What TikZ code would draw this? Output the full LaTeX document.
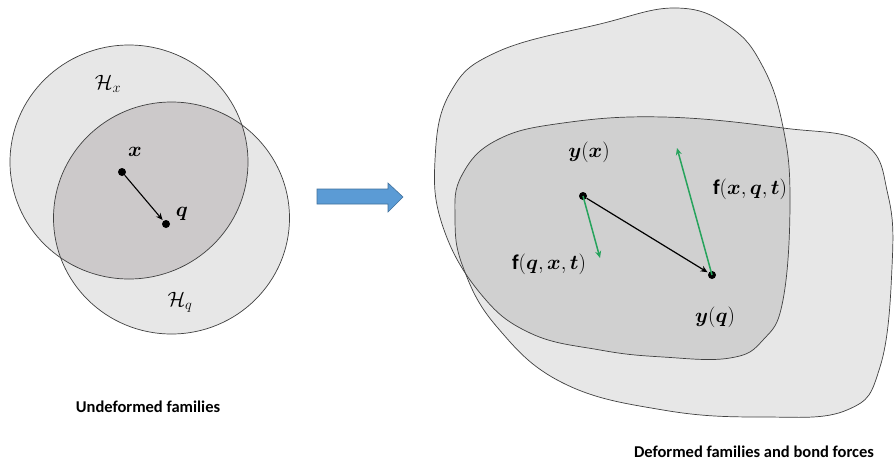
\documentclass[tikz,border=0pt]{standalone}
\usepackage{fontspec}
\setmainfont{Carlito}
\usepackage{amsmath,bm}
\usetikzlibrary{arrows.meta}
\definecolor{lightfill}{RGB}{231,231,231}
\definecolor{darkfill}{RGB}{204,201,202}
\definecolor{darkfillB}{RGB}{208,208,208}
\definecolor{greenarrow}{RGB}{38,163,92}
\definecolor{bluefill}{RGB}{91,155,213}
\definecolor{blueedge}{RGB}{65,113,156}
\tikzset{
  outline/.style={draw=black!75, line width=0.7pt},
  dot/.style={circle, fill=black, inner sep=0pt, minimum size=8pt},
  mlabel/.style={font=\fontsize{21}{24}\selectfont, inner sep=1pt},
  caption/.style={font=\fontsize{16.5}{19}\selectfont\bfseries, inner sep=0pt},
  bond/.style={-{Stealth[length=7pt,width=6pt]}, line width=1.2pt, shorten >=1pt},
  force/.style={-{Stealth[length=7pt,width=6pt]}, line width=1.5pt, draw=greenarrow},
}
\begin{document}
\begin{tikzpicture}[x=1pt,y=-1pt]
\useasboundingbox[fill=white] (0,0) rectangle (894,461);
% ---- left: undeformed families
\fill[lightfill] (129,162) ellipse [x radius=119, y radius=117];
\fill[lightfill] (171.5,218) ellipse [x radius=118, y radius=116];
\begin{scope}
  \clip (129,162) ellipse [x radius=119, y radius=117];
  \fill[darkfill] (171.5,218) ellipse [x radius=118, y radius=116];
\end{scope}
\draw[outline] (129,162) ellipse [x radius=119, y radius=117];
\draw[outline] (171.5,218) ellipse [x radius=118, y radius=116];
\node[dot] (x) at (122,172) {};
\node[dot] (q) at (166,224) {};
\draw[bond, line width=1.1pt] (x) -- (q);
\node[mlabel] (lx) at (135,152) {$\bm{x}$};
\node[mlabel] (lq) at (182,214) {$\bm{q}$};
\node[mlabel] (hx) at (108,84) {$\mathcal{H}_{x}$};
\node[mlabel] (hq) at (180,302) {$\mathcal{H}_{q}$};
\node[caption] (cap1) at (148,407) {Undeformed families};
% ---- block arrow
\draw[fill=bluefill, draw=blueedge, line width=0.6pt]
  (317,189) -- (388,189) -- (388,183) -- (403,197) -- (388,212) -- (388,204) -- (317,204) -- cycle;
% ---- right: deformed families
\fill[lightfill] plot[smooth cycle, tension=0.7] coordinates {
  (677,8) (600,24) (497,52) (450,93) (435,160) (443,227) (480,293) (530,333) (600,350)
  (663,357) (730,358) (763,340) (783,300) (790,200) (783,127) (763,67) (730,27)};
\fill[lightfill] plot[smooth cycle, tension=0.7] coordinates {
  (497,140) (462,175) (455,217) (463,267) (497,327) (563,383) (663,410) (763,417)
  (847,410) (880,367) (892,267) (888,195) (863,143) (783,128) (663,117) (563,123)};
\begin{scope}
  \clip plot[smooth cycle, tension=0.7] coordinates {
  (677,8) (600,24) (497,52) (450,93) (435,160) (443,227) (480,293) (530,333) (600,350)
  (663,357) (730,358) (763,340) (783,300) (790,200) (783,127) (763,67) (730,27)};
  \fill[darkfillB] plot[smooth cycle, tension=0.7] coordinates {
  (497,140) (462,175) (455,217) (463,267) (497,327) (563,383) (663,410) (763,417)
  (847,410) (880,367) (892,267) (888,195) (863,143) (783,128) (663,117) (563,123)};
\end{scope}
\draw[outline] plot[smooth cycle, tension=0.7] coordinates {
  (677,8) (600,24) (497,52) (450,93) (435,160) (443,227) (480,293) (530,333) (600,350)
  (663,357) (730,358) (763,340) (783,300) (790,200) (783,127) (763,67) (730,27)};
\draw[outline] plot[smooth cycle, tension=0.7] coordinates {
  (497,140) (462,175) (455,217) (463,267) (497,327) (563,383) (663,410) (763,417)
  (847,410) (880,367) (892,267) (888,195) (863,143) (783,128) (663,117) (563,123)};
\node[dot] (yx) at (583,196) {};
\node[dot] (yq) at (712,275) {};
\coordinate (fqx) at (600,258);
\coordinate (fxq) at (677,148);
\draw[bond] (yx) -- (yq);
\draw[force] (yx.center) -- (fqx);
\draw[force] (yq.center) -- (fxq);
\node[mlabel] (lyx) at (589,152) {$\bm{y}(\bm{x})$};
\node[mlabel] (lyq) at (715,317) {$\bm{y}(\bm{q})$};
\node[mlabel] (lfxq) at (750,189) {$\mathbf{f}(\bm{x},\bm{q},\bm{t})$};
\node[mlabel] (lfqx) at (549,264) {$\mathbf{f}(\bm{q},\bm{x},\bm{t})$};
\node[caption] (cap2) at (754,452) {Deformed families and bond forces};
\end{tikzpicture}
\end{document}
